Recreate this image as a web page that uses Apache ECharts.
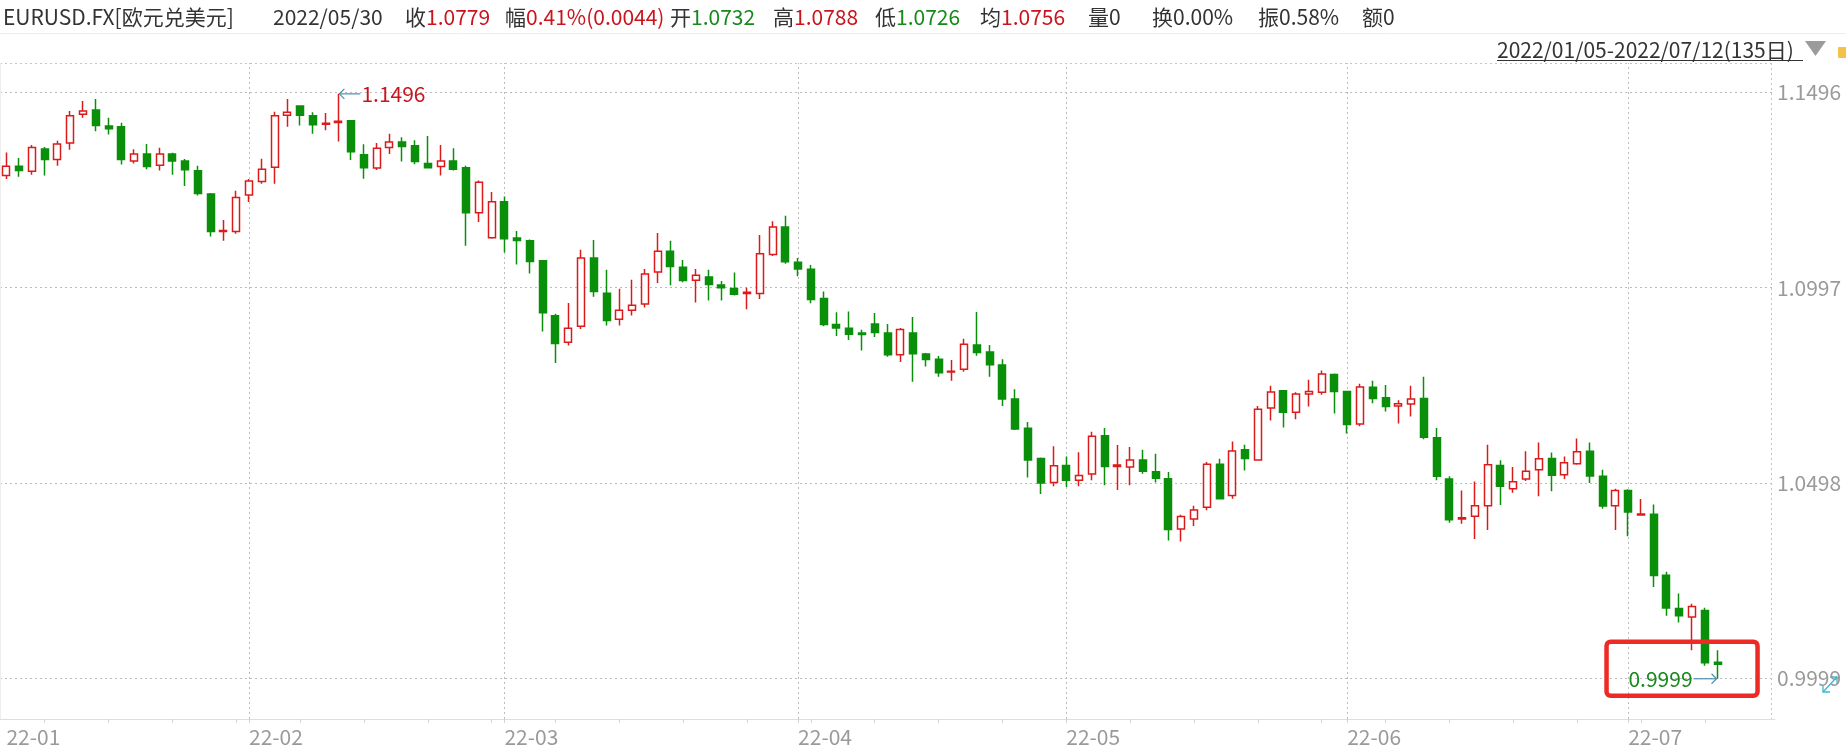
<!DOCTYPE html>
<html><head><meta charset="utf-8">
<script src="https://cdn.jsdelivr.net/npm/echarts@6/dist/echarts.min.js"></script>
<style>html,body{margin:0;padding:0;background:#fff;}#c{width:1846px;height:751px;}</style>
</head><body><div id="c"></div>
<script>
// ---------------- DATA ----------------
const dates = [
'2022/01/05','2022/01/06','2022/01/07','2022/01/10','2022/01/11','2022/01/12','2022/01/13','2022/01/14','2022/01/17','2022/01/18','2022/01/19','2022/01/20','2022/01/21','2022/01/24','2022/01/25','2022/01/26','2022/01/27','2022/01/28','2022/01/31',
'2022/02/01','2022/02/02','2022/02/03','2022/02/04','2022/02/07','2022/02/08','2022/02/09','2022/02/10','2022/02/11','2022/02/14','2022/02/15','2022/02/16','2022/02/17','2022/02/18','2022/02/21','2022/02/22','2022/02/23','2022/02/24','2022/02/25','2022/02/28',
'2022/03/01','2022/03/02','2022/03/03','2022/03/04','2022/03/07','2022/03/08','2022/03/09','2022/03/10','2022/03/11','2022/03/14','2022/03/15','2022/03/16','2022/03/17','2022/03/18','2022/03/21','2022/03/22','2022/03/23','2022/03/24','2022/03/25','2022/03/28','2022/03/29','2022/03/30','2022/03/31',
'2022/04/01','2022/04/04','2022/04/05','2022/04/06','2022/04/07','2022/04/08','2022/04/11','2022/04/12','2022/04/13','2022/04/14','2022/04/15','2022/04/18','2022/04/19','2022/04/20','2022/04/21','2022/04/22','2022/04/25','2022/04/26','2022/04/27','2022/04/28','2022/04/29',
'2022/05/02','2022/05/03','2022/05/04','2022/05/05','2022/05/06','2022/05/09','2022/05/10','2022/05/11','2022/05/12','2022/05/13','2022/05/16','2022/05/17','2022/05/18','2022/05/19','2022/05/20','2022/05/23','2022/05/24','2022/05/25','2022/05/26','2022/05/27','2022/05/30','2022/05/31',
'2022/06/01','2022/06/02','2022/06/03','2022/06/06','2022/06/07','2022/06/08','2022/06/09','2022/06/10','2022/06/13','2022/06/14','2022/06/15','2022/06/16','2022/06/17','2022/06/20','2022/06/21','2022/06/22','2022/06/23','2022/06/24','2022/06/27','2022/06/28','2022/06/29','2022/06/30',
'2022/07/01','2022/07/04','2022/07/05','2022/07/06','2022/07/07','2022/07/08','2022/07/11','2022/07/12'
];
const opens = [
1.1287,1.1311,1.1298,1.1355,1.1328,1.1370,1.1444,1.1455,1.1414,1.1412,1.1324,1.1342,1.1313,1.1342,1.1324,1.1299,1.1240,1.1144,1.1144,
1.1237,1.1272,1.1308,1.1441,1.1465,1.1440,1.1418,1.1423,1.1427,1.1340,1.1306,1.1359,1.1373,1.1363,1.1318,1.1310,1.1324,1.1307,1.1192,1.1128,
1.1220,1.1127,1.1120,1.1069,1.0928,1.0860,1.0901,1.1076,1.0986,1.0919,1.0942,1.0958,1.1040,1.1093,1.1052,1.1019,1.1027,1.1007,1.0998,1.0985,1.0985,1.1085,1.1155,
1.1065,1.1047,1.0972,1.0906,1.0896,1.0884,1.0907,1.0884,1.0828,1.0884,1.0830,1.0817,1.0784,1.0791,1.0853,1.0835,1.0802,1.0715,1.0640,1.0563,1.0501,
1.0545,1.0507,1.0523,1.0621,1.0542,1.0541,1.0559,1.0529,1.0511,1.0382,1.0408,1.0438,1.0548,1.0468,1.0585,1.0559,1.0692,1.0736,1.0681,1.0728,1.0732,1.0778,
1.0734,1.0651,1.0745,1.0718,1.0697,1.0702,1.0716,1.0616,1.0510,1.0408,1.0415,1.0442,1.0545,1.0485,1.0510,1.0534,1.0563,1.0521,1.0549,1.0581,1.0517,1.0442,
1.0481,1.0418,1.0420,1.0264,1.0179,1.0157,1.0174,1.0041
];
const closes = [
1.1311,1.1300,1.1359,1.1328,1.1368,1.1440,1.1452,1.1415,1.1407,1.1328,1.1342,1.1310,1.1342,1.1324,1.1302,1.1241,1.1144,1.1146,1.1231,
1.1273,1.1303,1.1440,1.1449,1.1441,1.1417,1.1421,1.1426,1.1348,1.1307,1.1357,1.1373,1.1361,1.1323,1.1307,1.1324,1.1303,1.1192,1.1270,1.1220,
1.1125,1.1121,1.1067,1.0936,1.0857,1.0896,1.1076,1.0990,1.0916,1.0942,1.0955,1.1035,1.1093,1.1054,1.1018,1.1032,1.1008,1.1000,1.0983,1.0988,1.1087,1.1155,1.1066,
1.1048,1.0970,1.0906,1.0897,1.0881,1.0880,1.0885,1.0828,1.0893,1.0831,1.0816,1.0782,1.0786,1.0855,1.0834,1.0803,1.0715,1.0638,1.0559,1.0500,1.0544,
1.0507,1.0519,1.0620,1.0542,1.0546,1.0559,1.0530,1.0512,1.0381,1.0414,1.0431,1.0548,1.0460,1.0582,1.0563,1.0689,1.0733,1.0681,1.0728,1.0734,1.0779,1.0734,
1.0650,1.0746,1.0716,1.0696,1.0703,1.0715,1.0617,1.0517,1.0406,1.0411,1.0442,1.0547,1.0492,1.0503,1.0530,1.0562,1.0520,1.0552,1.0580,1.0518,1.0441,1.0481,
1.0426,1.0421,1.0263,1.0180,1.0160,1.0184,1.0040,1.0036
];
const lows = [
1.1278,1.1284,1.1289,1.1287,1.1312,1.1353,1.1435,1.1400,1.1392,1.1315,1.1318,1.1303,1.1300,1.1289,1.1260,1.1236,1.1131,1.1120,1.1138,
1.1219,1.1266,1.1266,1.1412,1.1415,1.1394,1.1403,1.1374,1.1327,1.1279,1.1301,1.1342,1.1323,1.1316,1.1306,1.1287,1.1300,1.1107,1.1168,1.1125,
1.1090,1.1059,1.1036,1.0888,1.0807,1.0852,1.0894,1.0977,1.0903,1.0903,1.0929,1.0949,1.1012,1.1006,1.1014,1.0962,1.0967,1.0967,1.0980,1.0945,1.0971,1.1081,1.1061,
1.1029,1.0960,1.0901,1.0876,1.0866,1.0839,1.0874,1.0823,1.0810,1.0759,1.0798,1.0772,1.0762,1.0785,1.0826,1.0772,1.0697,1.0636,1.0514,1.0472,1.0492,
1.0490,1.0492,1.0507,1.0494,1.0482,1.0494,1.0524,1.0501,1.0353,1.0350,1.0390,1.0430,1.0459,1.0460,1.0532,1.0558,1.0660,1.0642,1.0663,1.0696,1.0726,1.0678,
1.0627,1.0645,1.0704,1.0683,1.0652,1.0670,1.0612,1.0507,1.0398,1.0396,1.0357,1.0380,1.0444,1.0475,1.0505,1.0466,1.0479,1.0510,1.0547,1.0500,1.0434,1.0380,
1.0364,1.0417,1.0234,1.0160,1.0143,1.0072,1.0032,0.9999
];
const highs = [
1.1346,1.1332,1.1365,1.1360,1.1376,1.1452,1.1478,1.1483,1.1435,1.1422,1.1354,1.1368,1.1358,1.1345,1.1329,1.1312,1.1242,1.1173,1.1248,
1.1278,1.1330,1.1450,1.1483,1.1466,1.1449,1.1447,1.1496,1.1429,1.1367,1.1370,1.1394,1.1385,1.1377,1.1388,1.1365,1.1357,1.1312,1.1274,1.1245,
1.1233,1.1145,1.1123,1.1071,1.0933,1.0961,1.1097,1.1122,1.1046,1.0997,1.1020,1.1048,1.1140,1.1120,1.1071,1.1048,1.1046,1.1017,1.1039,1.1000,1.1135,1.1170,1.1184,
1.1076,1.1058,1.0990,1.0937,1.0939,1.0892,1.0935,1.0907,1.0897,1.0925,1.0833,1.0825,1.0815,1.0869,1.0938,1.0853,1.0817,1.0740,1.0656,1.0565,1.0594,
1.0568,1.0579,1.0631,1.0641,1.0597,1.0592,1.0585,1.0575,1.0528,1.0419,1.0442,1.0554,1.0562,1.0606,1.0598,1.0697,1.0749,1.0738,1.0732,1.0764,1.0788,1.0780,
1.0736,1.0754,1.0762,1.0751,1.0712,1.0749,1.0772,1.0641,1.0517,1.0481,1.0504,1.0598,1.0558,1.0541,1.0581,1.0604,1.0578,1.0568,1.0614,1.0604,1.0534,1.0485,
1.0484,1.0459,1.0445,1.0273,1.0217,1.0191,1.0181,1.0072
];
const yTicks = [0.9999, 1.0498, 1.0997, 1.1496];
const yRange = [0.9896, 1.1575];
const emptySlots = ['', '', '', ''];
const headerTitle = 'EURUSD.FX[欧元兑美元]';
const headerDate = '2022/05/30';
const headerLabels = ['收', '幅', '开', '高', '低', '均'];
const headerValues = ['1.0779', '0.41%(0.0044)', '1.0732', '1.0788', '1.0726', '1.0756'];
const headerUp = [true, true, false, true, false, true];
const headerStats = ['量0', '换0.00%', '振0.58%', '额0'];
const rangeText = '2022/01/05-2022/07/12(135日)';

// ---------------- STYLE ----------------
const FONT = '"Noto Sans CJK SC", "Noto Sans", sans-serif';
const RED = '#dc1a1a', GREEN = '#0a8f0a';
const TXT_RED = '#c9141c', TXT_GREEN = '#17881a';
const GRID = { left: 0, top: 63, right: 71, bottom: 32 };
const PLOT_RIGHT = 1771, PLOT_BOTTOM = 719;

const categories = dates.concat(emptySlots);
const candleData = dates.map((d, i) => [opens[i], closes[i], lows[i], highs[i]]);
const monthStarts = [];
const tickIdx = new Set();
dates.forEach((d, i) => {
  if (i > 0 && d.slice(5, 7) !== dates[i - 1].slice(5, 7)) { monthStarts.push(i); tickIdx.add(i); }
  const dt = new Date(d.replace(/\//g, '-') + 'T00:00:00');
  if (dt.getDay() === 1) tickIdx.add(i);
});
const labelIdx = new Set([0].concat(monthStarts));

const chart = echarts.init(document.getElementById('c'), null, { renderer: 'canvas' });
const option = {
  animation: false,
  backgroundColor: '#ffffff',
  textStyle: { fontFamily: FONT },
  grid: Object.assign({ outerBoundsMode: 'none', containLabel: false }, GRID),
  xAxis: {
    type: 'category', data: categories, boundaryGap: true,
    axisLine: { show: true, lineStyle: { color: '#dedede', width: 1 } },
    axisTick: { show: true, alignWithLabel: true, length: 4, interval: (i) => tickIdx.has(i), lineStyle: { color: '#d4d4d4' } },
    axisLabel: {
      interval: (i) => labelIdx.has(i), align: 'left', margin: 8,
      color: '#9a9a9a', fontSize: 21, fontFamily: FONT,
      formatter: (v) => v ? '22-' + v.slice(5, 7) : ''
    },
    splitLine: { show: false }
  },
  yAxis: {
    type: 'value', min: yRange[0], max: yRange[1], scale: true,
    axisLine: { show: false }, axisTick: { show: false }, axisLabel: { show: false }, splitLine: { show: false }
  },
  series: [{
    type: 'candlestick', z: 3,
    data: candleData,
    barWidth: 7.5,
    itemStyle: { color: '#ffffff', color0: GREEN, borderColor: RED, borderColor0: GREEN, borderColorDoji: RED, borderWidth: 1.5 },
    markLine: {
      silent: true, animation: false, symbol: ['none', 'none'], z: 1,
      lineStyle: { color: '#bcbcbc', type: [2, 3], width: 1 },
      label: { show: false },
      emphasis: { disabled: true },
      data: yTicks.map(v => ({
        yAxis: v,
        label: { show: true, position: 'end', distance: 2, formatter: v.toFixed(4), color: '#9a9a9a', fontSize: 21, fontFamily: FONT }
      })).concat(monthStarts.map(i => ({ xAxis: dates[i], label: { show: false } })))
    }
  }]
};
chart.setOption(option);

// ---------------- ANNOTATIONS ----------------
let maxIdx = 0, minIdx = 0;
highs.forEach((h, i) => { if (h > highs[maxIdx]) maxIdx = i; });
lows.forEach((l, i) => { if (l < lows[minIdx]) minIdx = i; });
const pMax = chart.convertToPixel({ xAxisIndex: 0, yAxisIndex: 0 }, [maxIdx, highs[maxIdx]]);
const pMin = chart.convertToPixel({ xAxisIndex: 0, yAxisIndex: 0 }, [minIdx, lows[minIdx]]);
const ARROW = '#4d8fb0';
const g = [];
const line = (x1, y1, x2, y2, stroke, w, dash) => ({ type: 'line', silent: true, z: 50, shape: { x1, y1, x2, y2 }, style: { stroke, lineWidth: w || 1, lineDash: dash || null } });
const text = (x, y, t, fill, size, align) => ({ type: 'text', silent: true, z: 60, x, y, style: { text: t, fill, fontSize: size || 21, fontFamily: FONT, verticalAlign: 'middle', align: align || 'left' } });

// header
g.push(line(0, 33.5, 1846, 33.5, '#ededed', 1));
g.push(text(3, 17, headerTitle, '#333333'));
g.push(text(273, 17, headerDate, '#333333'));
const labelX = [405, 505, 670, 773, 875, 980];
headerLabels.forEach((l, i) => {
  g.push(text(labelX[i], 17, l, '#333333'));
  g.push(text(labelX[i] + 21, 17, headerValues[i], headerUp[i] ? TXT_RED : TXT_GREEN));
});
const statX = [1088, 1152, 1258, 1362];
headerStats.forEach((s, i) => g.push(text(statX[i], 17, s, '#333333')));

// range selector
g.push(text(1497, 50, rangeText, '#333333', 21));
g.push(line(1497, 60.5, 1803, 60.5, '#333333', 1));
g.push({ type: 'polygon', silent: true, shape: { points: [[1805, 41], [1826, 41], [1815.5, 56]] }, style: { fill: '#9b9b9b' } });
g.push({ type: 'rect', silent: true, shape: { x: 1838, y: 47, width: 12, height: 11, r: 1 }, style: { fill: '#f2c14e' } });

// plot frame
g.push(line(0, 63.5, PLOT_RIGHT, 63.5, '#c4c4c4', 1, [2, 3]));
g.push(line(PLOT_RIGHT + 0.5, 63, PLOT_RIGHT + 0.5, PLOT_BOTTOM, '#c4c4c4', 1, [2, 3]));
g.push(line(0.5, 63, 0.5, PLOT_BOTTOM, '#eeeeee', 1));

// max annotation
g.push(line(pMax[0] + 1, pMax[1], pMax[0] + 22, pMax[1], ARROW, 1.2));
g.push({ type: 'polyline', silent: true, z: 50, shape: { points: [[pMax[0] + 6, pMax[1] - 5], [pMax[0] + 1, pMax[1]], [pMax[0] + 6, pMax[1] + 5]] }, style: { stroke: ARROW, lineWidth: 1.2, fill: null } });
g.push(text(pMax[0] + 23, pMax[1], highs[maxIdx].toFixed(4), TXT_RED, 21));

// min annotation
g.push(line(pMin[0] - 24, pMin[1], pMin[0] - 1, pMin[1], ARROW, 1.2));
g.push({ type: 'polyline', silent: true, z: 50, shape: { points: [[pMin[0] - 6, pMin[1] - 5], [pMin[0] - 1, pMin[1]], [pMin[0] - 6, pMin[1] + 5]] }, style: { stroke: ARROW, lineWidth: 1.2, fill: null } });
g.push(text(pMin[0] - 25, pMin[1], lows[minIdx].toFixed(4), TXT_GREEN, 21, 'right'));

// red highlight box
g.push({ type: 'rect', silent: true, z: 70, shape: { x: pMin[0] - 111, y: pMin[1] - 37, width: 151, height: 54, r: 4 }, style: { fill: null, stroke: '#ee2a24', lineWidth: 4.5 } });

// small teal resize icon
const IC = '#3fb6cf';
g.push(line(1823, 692, 1837, 677, IC, 1.3));
g.push({ type: 'polyline', silent: true, shape: { points: [[1830, 677], [1837, 677], [1837, 684]] }, style: { stroke: IC, lineWidth: 1.3, fill: null } });
g.push({ type: 'polyline', silent: true, shape: { points: [[1823, 685], [1823, 692], [1830, 692]] }, style: { stroke: IC, lineWidth: 1.3, fill: null } });

chart.setOption({ graphic: g });
</script>
</body></html>
